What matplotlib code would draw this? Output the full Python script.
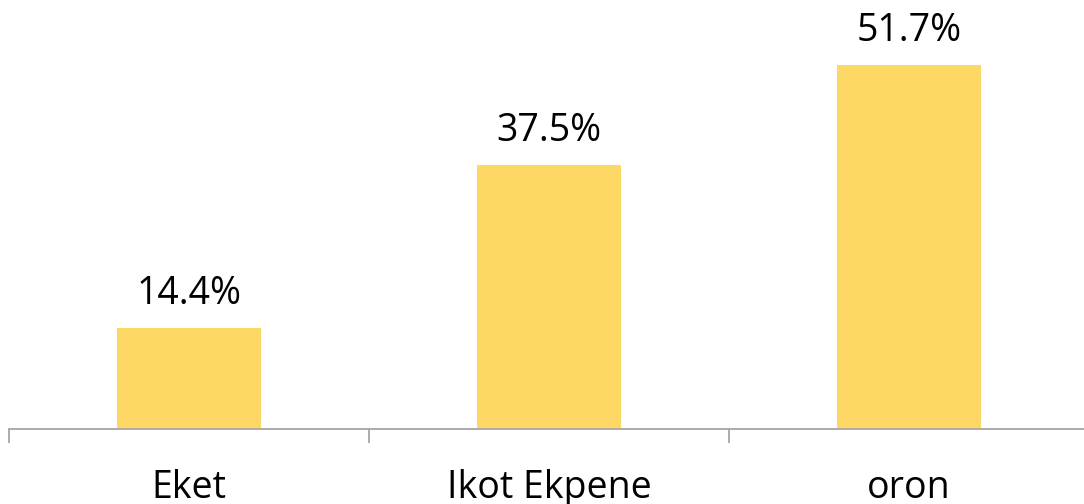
import matplotlib
matplotlib.use("Agg")
import matplotlib.pyplot as plt
import matplotlib.transforms as mtransforms
from matplotlib.ticker import FixedLocator

categories = ["Eket", "Ikot Ekpene", "oron"]
values = [14.4, 37.5, 51.7]
value_labels = ["14.4%", "37.5%", "51.7%"]

plt.rcParams['font.family'] = ['Open Sans', 'DejaVu Sans']

W, H = 1084, 504
fig = plt.figure(figsize=(W / 100, H / 100), dpi=100)
ax = fig.add_axes([9 / W, 75 / H, 1080 / W, 429 / H])

x = list(range(len(categories)))
ax.bar(x, values, width=0.4, color="#FDD865", zorder=2)
ax.set_xlim(-0.5, len(categories) - 0.5)
ax.set_ylim(0, 60.9)

for s in ["top", "right", "left"]:
    ax.spines[s].set_visible(False)
ax.spines["bottom"].set_color("#A6A6A6")
ax.spines["bottom"].set_linewidth(1.3)
ax.set_yticks([])
ax.xaxis.set_major_locator(FixedLocator([i - 0.5 for i in range(len(categories) + 1)]))
ax.tick_params(axis="x", which="major", length=10, width=1.3, color="#A6A6A6",
               labelbottom=False, direction="out")

for xi, v, lab in zip(x, values, value_labels):
    ax.annotate(lab, (xi, v), xytext=(0, 17), textcoords="offset points",
                ha="center", va="baseline", fontsize=27, color="#000000")

trans = mtransforms.blended_transform_factory(ax.transData, ax.transAxes)
for xi, cat in zip(x, categories):
    ax.annotate(cat, (xi, 0), xycoords=trans, xytext=(0, -50), textcoords="offset points",
                ha="center", va="baseline", fontsize=27, color="#000000",
                annotation_clip=False)

fig.savefig("out.png", dpi=100)
